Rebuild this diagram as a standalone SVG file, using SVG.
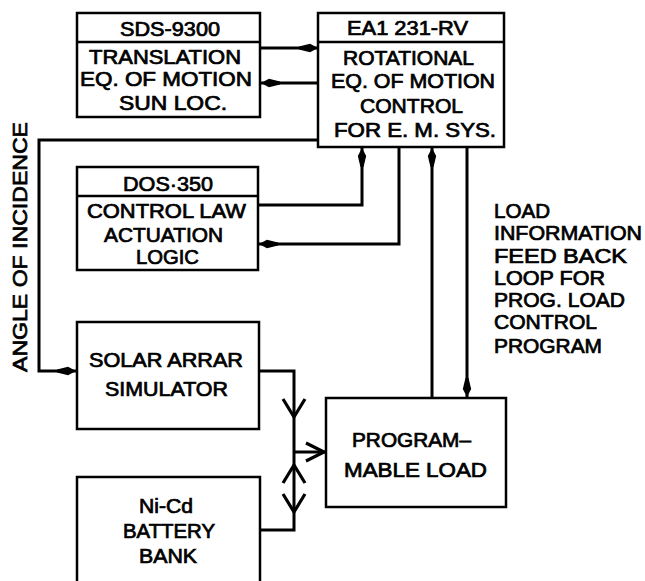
<svg xmlns="http://www.w3.org/2000/svg" width="645" height="581" viewBox="0 0 645 581">
<style>
.box{fill:#fff;stroke:#000;stroke-width:2.5}
.ln{fill:none;stroke:#000;stroke-width:3;stroke-linejoin:miter}
.v{fill:none;stroke:#000;stroke-width:3.2;stroke-linejoin:miter}
text{font-family:"Liberation Sans",Arial,sans-serif;font-weight:normal;font-size:19.5px;fill:#000;stroke:#000;stroke-width:0.7;text-anchor:middle}
.l{text-anchor:start}
</style>
<defs>
<marker id="a" markerUnits="userSpaceOnUse" viewBox="-20 -5 20 10" markerWidth="20" markerHeight="10" refX="0" refY="0" orient="auto">
<path d="M0,0 L-8,-4.2 L-19,-1.5 L-19,1.5 L-8,4.2 Z" fill="#000"/>
</marker>
</defs>
<rect width="645" height="581" fill="#fff"/>
<g id="connectors">
<path class="ln" d="M260,48 H318" marker-end="url(#a)"/>
<path class="ln" d="M318,83 H261" marker-end="url(#a)"/>
<path class="ln" d="M318,140 H39 V371 H76" marker-end="url(#a)"/>
<path class="ln" d="M258,205 H362 V148" marker-end="url(#a)"/>
<path class="ln" d="M399,147 V244 H259" marker-end="url(#a)"/>
<path class="ln" d="M432,398 V148" marker-end="url(#a)"/>
<path class="ln" d="M467,147 V397" marker-end="url(#a)"/>
<path class="ln" d="M259,371 H294 V530 H260"/>
<path class="ln" d="M294,452 H325"/>
<polyline class="v" points="283,399 294,417 305,399"/>
<polyline class="v" points="306,443 324,452 306,461"/>
<polyline class="v" points="283,483 294,465 305,483"/>
<polyline class="v" points="283,494 294,512 305,494"/>
</g>
<g id="sds9300">
<rect class="box" x="77" y="13" width="183" height="104"/>
<line class="box" x1="77" y1="42" x2="260" y2="42"/>
<text x="170" y="36" textLength="100" lengthAdjust="spacingAndGlyphs">SDS-9300</text>
<text x="165" y="64" textLength="152" lengthAdjust="spacingAndGlyphs">TRANSLATION</text>
<text x="166" y="86" textLength="172" lengthAdjust="spacingAndGlyphs">EQ. OF MOTION</text>
<text x="173" y="110" textLength="108" lengthAdjust="spacingAndGlyphs">SUN LOC.</text>
</g>
<g id="ea1">
<rect class="box" x="318" y="13" width="186" height="134"/>
<line class="box" x1="318" y1="42" x2="504" y2="42"/>
<text x="407.5" y="35" textLength="121" lengthAdjust="spacingAndGlyphs">EA1 231-RV</text>
<text x="408.5" y="65" textLength="131" lengthAdjust="spacingAndGlyphs">ROTATIONAL</text>
<text x="413" y="88" textLength="164" lengthAdjust="spacingAndGlyphs">EQ. OF MOTION</text>
<text x="411.5" y="112.5" textLength="103" lengthAdjust="spacingAndGlyphs">CONTROL</text>
<text x="415" y="136.5" textLength="162" lengthAdjust="spacingAndGlyphs">FOR E. M. SYS.</text>
</g>
<g id="dos350">
<rect class="box" x="77" y="167" width="181" height="103"/>
<line class="box" x1="77" y1="196" x2="258" y2="196"/>
<text x="168" y="191" textLength="90" lengthAdjust="spacingAndGlyphs">DOS·350</text>
<text x="166.5" y="218" textLength="159" lengthAdjust="spacingAndGlyphs">CONTROL LAW</text>
<text x="163.5" y="242" textLength="119" lengthAdjust="spacingAndGlyphs">ACTUATION</text>
<text x="167.5" y="264" textLength="63" lengthAdjust="spacingAndGlyphs">LOGIC</text>
</g>
<g id="solar">
<rect class="box" x="77" y="322" width="182" height="107"/>
<text x="166" y="367" textLength="154" lengthAdjust="spacingAndGlyphs">SOLAR ARRAR</text>
<text x="166.5" y="396" textLength="123" lengthAdjust="spacingAndGlyphs">SIMULATOR</text>
</g>
<g id="battery">
<rect class="box" x="77" y="477" width="183" height="130"/>
<text x="166" y="513" textLength="54" lengthAdjust="spacingAndGlyphs">Ni-Cd</text>
<text x="169" y="538" textLength="92" lengthAdjust="spacingAndGlyphs">BATTERY</text>
<text x="168" y="563" textLength="58" lengthAdjust="spacingAndGlyphs">BANK</text>
</g>
<g id="load">
<rect class="box" x="326" y="398" width="180" height="109"/>
<text x="411.5" y="446.5" textLength="119" lengthAdjust="spacingAndGlyphs">PROGRAM–</text>
<text x="415.5" y="477" textLength="143" lengthAdjust="spacingAndGlyphs">MABLE LOAD</text>
</g>
<g id="labels">
<text transform="translate(27,247) rotate(-90)" textLength="250" lengthAdjust="spacingAndGlyphs">ANGLE OF INCIDENCE</text>
<text class="l" x="494" y="218" textLength="56" lengthAdjust="spacingAndGlyphs">LOAD</text>
<text class="l" x="494" y="240" textLength="148" lengthAdjust="spacingAndGlyphs">INFORMATION</text>
<text class="l" x="494" y="263" textLength="133" lengthAdjust="spacingAndGlyphs">FEED  BACK</text>
<text class="l" x="494" y="285" textLength="111" lengthAdjust="spacingAndGlyphs">LOOP FOR</text>
<text class="l" x="494" y="307" textLength="131" lengthAdjust="spacingAndGlyphs">PROG. LOAD</text>
<text class="l" x="494" y="329" textLength="103" lengthAdjust="spacingAndGlyphs">CONTROL</text>
<text class="l" x="494" y="353" textLength="108" lengthAdjust="spacingAndGlyphs">PROGRAM</text>
</g>
</svg>
